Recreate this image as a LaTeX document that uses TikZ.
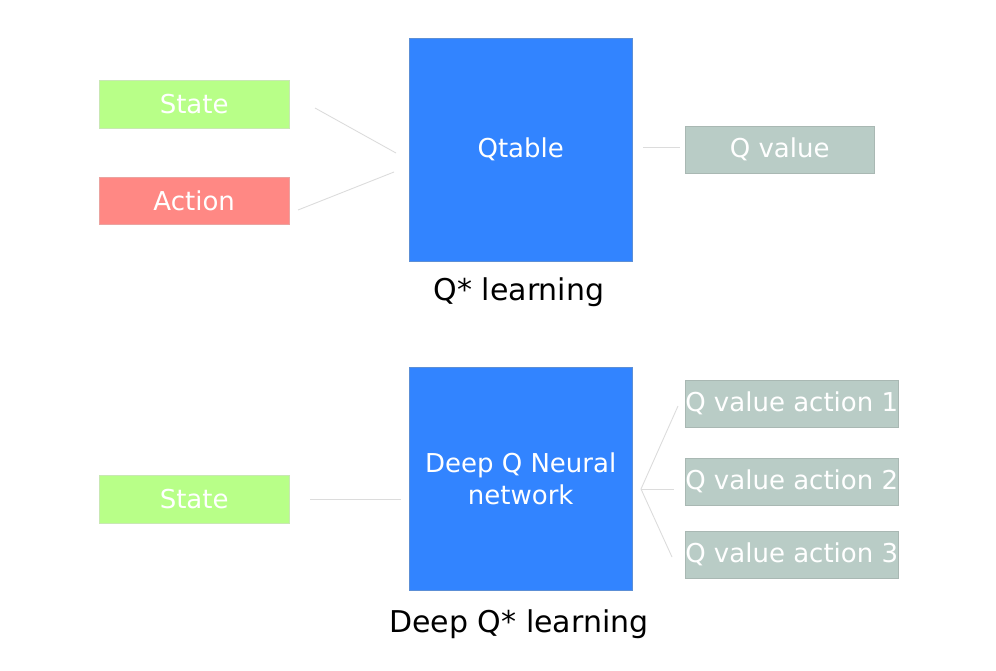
\documentclass[tikz,border=0pt]{standalone}
\usepackage{fontspec}
\setmainfont{DejaVu Sans}
\definecolor{cgreen}{HTML}{B8FF88}
\definecolor{cgreenb}{HTML}{C9E8B4}
\definecolor{cred}{HTML}{FF8884}
\definecolor{credb}{HTML}{EBA3A0}
\definecolor{cblue}{HTML}{3284FF}
\definecolor{cblueb}{HTML}{5C8FD6}
\definecolor{cgray}{HTML}{B9CCC6}
\definecolor{cgrayb}{HTML}{A9B8B3}
\definecolor{cline}{HTML}{DCDCDC}
\begin{document}
\begin{tikzpicture}[x=1pt,y=-1pt,
  lbl/.style={text=white,font=\fontsize{26}{32}\selectfont,inner sep=0pt,anchor=north west,align=center},
  ttl/.style={text=black,font=\fontsize{30}{35}\selectfont,inner sep=0pt},
  conn/.style={draw=cline,line width=0.9pt}]
\useasboundingbox (0,0) rectangle (996,670);
% top
\node[lbl,fill=cgreen,draw=cgreenb,minimum width=190pt,minimum height=48pt] (st1) at (99,80) {State};
\node[lbl,fill=cred,draw=credb,minimum width=190pt,minimum height=47pt] (act) at (99,177) {Action};
\node[lbl,fill=cblue,draw=cblueb,minimum width=223pt,minimum height=223pt] (qt) at (409,38) {Qtable};
\node[lbl,fill=cgray,draw=cgrayb,minimum width=189pt,minimum height=47pt] (qv) at (685,126) {Q value};
\node[ttl] (t1) at (519,292) {Q* learning};
\coordinate (a1) at (315,108); \coordinate (a2) at (396,153);
\coordinate (b1) at (298,210); \coordinate (b2) at (394,172);
\coordinate (c1) at (643,147); \coordinate (c2) at (680,147);
\draw[conn] (a1) -- (a2);
\draw[conn] (b1) -- (b2);
\draw[conn] (c1) -- (c2);
% bottom
\node[lbl,fill=cgreen,draw=cgreenb,minimum width=190pt,minimum height=48pt] (st2) at (99,475) {State};
\node[lbl,fill=cblue,draw=cblueb,minimum width=223pt,minimum height=223pt] (dq) at (409,367) {Deep Q Neural\\network};
\node[lbl,fill=cgray,draw=cgrayb,minimum width=213pt,minimum height=47pt] (q1) at (685,380) {Q value action 1};
\node[lbl,fill=cgray,draw=cgrayb,minimum width=213pt,minimum height=47pt] (q2) at (685,458) {Q value action 2};
\node[lbl,fill=cgray,draw=cgrayb,minimum width=213pt,minimum height=47pt] (q3) at (685,531) {Q value action 3};
\node[ttl] (t2) at (519,624) {Deep Q* learning};
\coordinate (d1) at (310,499); \coordinate (d2) at (401,499);
\coordinate (f0) at (641,489);
\coordinate (f1) at (678,406); \coordinate (f2) at (674,489); \coordinate (f3) at (672,557);
\draw[conn] (d1) -- (d2);
\draw[conn] (f0) -- (f1);
\draw[conn] (f0) -- (f2);
\draw[conn] (f0) -- (f3);
\end{tikzpicture}
\end{document}
